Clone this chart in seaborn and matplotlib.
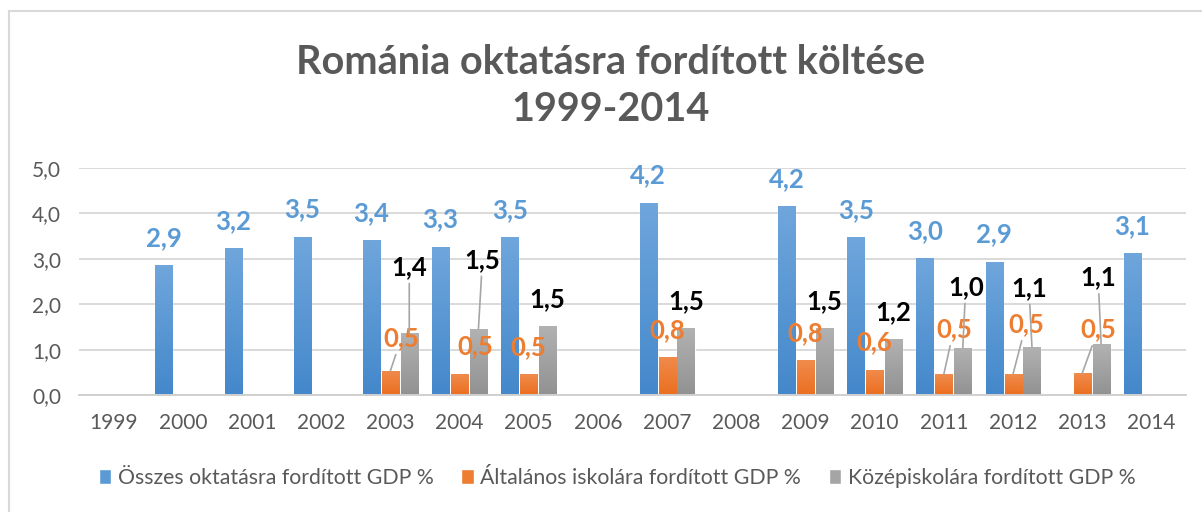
import numpy as np
import pandas as pd
import seaborn as sns
import matplotlib.pyplot as plt
from matplotlib.patches import Rectangle
from matplotlib.colors import LinearSegmentedColormap

# Data (GDP %)
years = [str(y) for y in range(1999, 2015)]
total = [np.nan, 2.86, 3.24, 3.49, 3.42, 3.27, 3.47, np.nan,
         4.24, np.nan, 4.17, 3.47, 3.02, 2.94, np.nan, 3.13]
primary = [np.nan, np.nan, np.nan, np.nan, 0.53, 0.46, 0.46, np.nan,
           0.84, np.nan, 0.76, 0.56, 0.46, 0.46, 0.48, np.nan]
secondary = [np.nan, np.nan, np.nan, np.nan, 1.37, 1.46, 1.52, np.nan,
             1.48, np.nan, 1.48, 1.24, 1.04, 1.06, 1.12, np.nan]
series_names = ["Összes oktatásra fordított GDP %",
                "Általános iskolára fordított GDP %",
                "Középiskolára fordított GDP %"]

colors = ["#5b9bd5", "#ed7d31", "#a5a5a5"]
# Excel style gradient (top, bottom)
gradients = [("#6fa6dc", "#4488cb"), ("#f08b4c", "#eb6f20"), ("#b2b2b2", "#929292")]
label_colors = ["#5b9bd5", "#ed7d31", "#000000"]
text_gray = "#595959"

# label offsets in pixels (dx, dy) where Excel moved them; default is right above the bar
label_moves = [
    {},
    {4: (11, 33), 5: (16, 28), 12: (10, 45), 13: (13, 50), 14: (16, 44)},
    {4: (0, 66), 5: (4, 69), 12: (3, 61), 13: (-3, 59), 14: (-3, 67)},
]
leaders = [set(), {4, 12, 13, 14}, {4, 5, 12, 13, 14}]

df = pd.DataFrame({
    "year": years * 3,
    "value": total + primary + secondary,
    "series": [series_names[0]] * 16 + [series_names[1]] * 16 + [series_names[2]] * 16,
})

sns.set_theme(style="white")
plt.rcParams["font.family"] = ["Lato", "DejaVu Sans"]

fig = plt.figure(figsize=(12.02, 5.12), dpi=100)
ax = fig.add_axes([79 / 1202, 1 - 395 / 512, 1107 / 1202, 227 / 512])

sns.barplot(data=df, x="year", y="value", hue="series", order=years,
            hue_order=series_names, palette=colors, width=0.82, gap=0.1,
            errorbar=None, saturation=1, ax=ax)

ax.set_ylim(0, 5)
ax.set_yticks(np.arange(0, 5.1, 1))
ax.set_yticklabels([f"{v:.1f}".replace(".", ",") for v in np.arange(0, 5.1, 1)])
ax.set_xlabel(None)
ax.set_ylabel(None)
ax.tick_params(axis="y", length=0, pad=13, labelsize=15, labelcolor=text_gray)
ax.tick_params(axis="x", length=0, pad=13, labelsize=15, labelcolor=text_gray)
ax.yaxis.grid(True, color="#d9d9d9", lw=1.4)
ax.set_axisbelow(True)
for s in ["top", "right", "left"]:
    ax.spines[s].set_visible(False)
ax.spines["bottom"].set_color("#d0d0d0")
ax.spines["bottom"].set_linewidth(1.4)

# data labels + gradient fill
vals = [total, primary, secondary]
xlim = ax.get_xlim()
grad = np.linspace(1, 0, 64).reshape(-1, 1)
for k, cont in enumerate(ax.containers):
    cmap = LinearSegmentedColormap.from_list(f"g{k}", [gradients[k][1], gradients[k][0]])
    for bar in cont:
        h = bar.get_height()
        if np.isnan(h) or h == 0:
            continue
        x0, w = bar.get_x(), bar.get_width()
        img = ax.imshow(grad, cmap=cmap, aspect="auto", extent=(x0, x0 + w, 0, h),
                        zorder=bar.get_zorder() + 0.1)
        img.set_clip_path(bar)
        xc = x0 + w / 2
        i = int(round(xc))
        dx, dy = label_moves[k].get(i, (0, 27))
        arrow = None
        if i in leaders[k]:
            arrow = dict(arrowstyle="-", color="#a6a6a6", lw=1.2, shrinkA=1, shrinkB=0)
        ax.annotate(f"{vals[k][i]:.1f}".replace(".", ","), xy=(xc, h),
                    xytext=(dx, dy), textcoords="offset pixels",
                    ha="center", va="center", fontsize=18.5, fontweight="bold",
                    color=label_colors[k], arrowprops=arrow, annotation_clip=False,
                    zorder=5)
ax.set_xlim(xlim)
ax.set_ylim(0, 5)

ax.legend(loc="center", bbox_to_anchor=(0.486, -0.366), ncol=3, frameon=False,
          fontsize=15.3, handlelength=0.6, handleheight=0.7, handletextpad=0.3,
          columnspacing=1.3, labelcolor=text_gray)

fig.text(0.508, 0.832, "Románia oktatásra fordított költése\n1999-2014",
         ha="center", va="center", fontsize=28.5, fontweight="bold",
         color=text_gray, linespacing=1.32)

# chart frame (only left and top edges visible in the crop)
fig.add_artist(Rectangle((9 / 1202, -0.1), 1.2, 1.1 - 11 / 512,
                         transform=fig.transFigure, fill=False,
                         edgecolor="#d9d9d9", lw=1.5))

fig.savefig("out.png", dpi=100)
